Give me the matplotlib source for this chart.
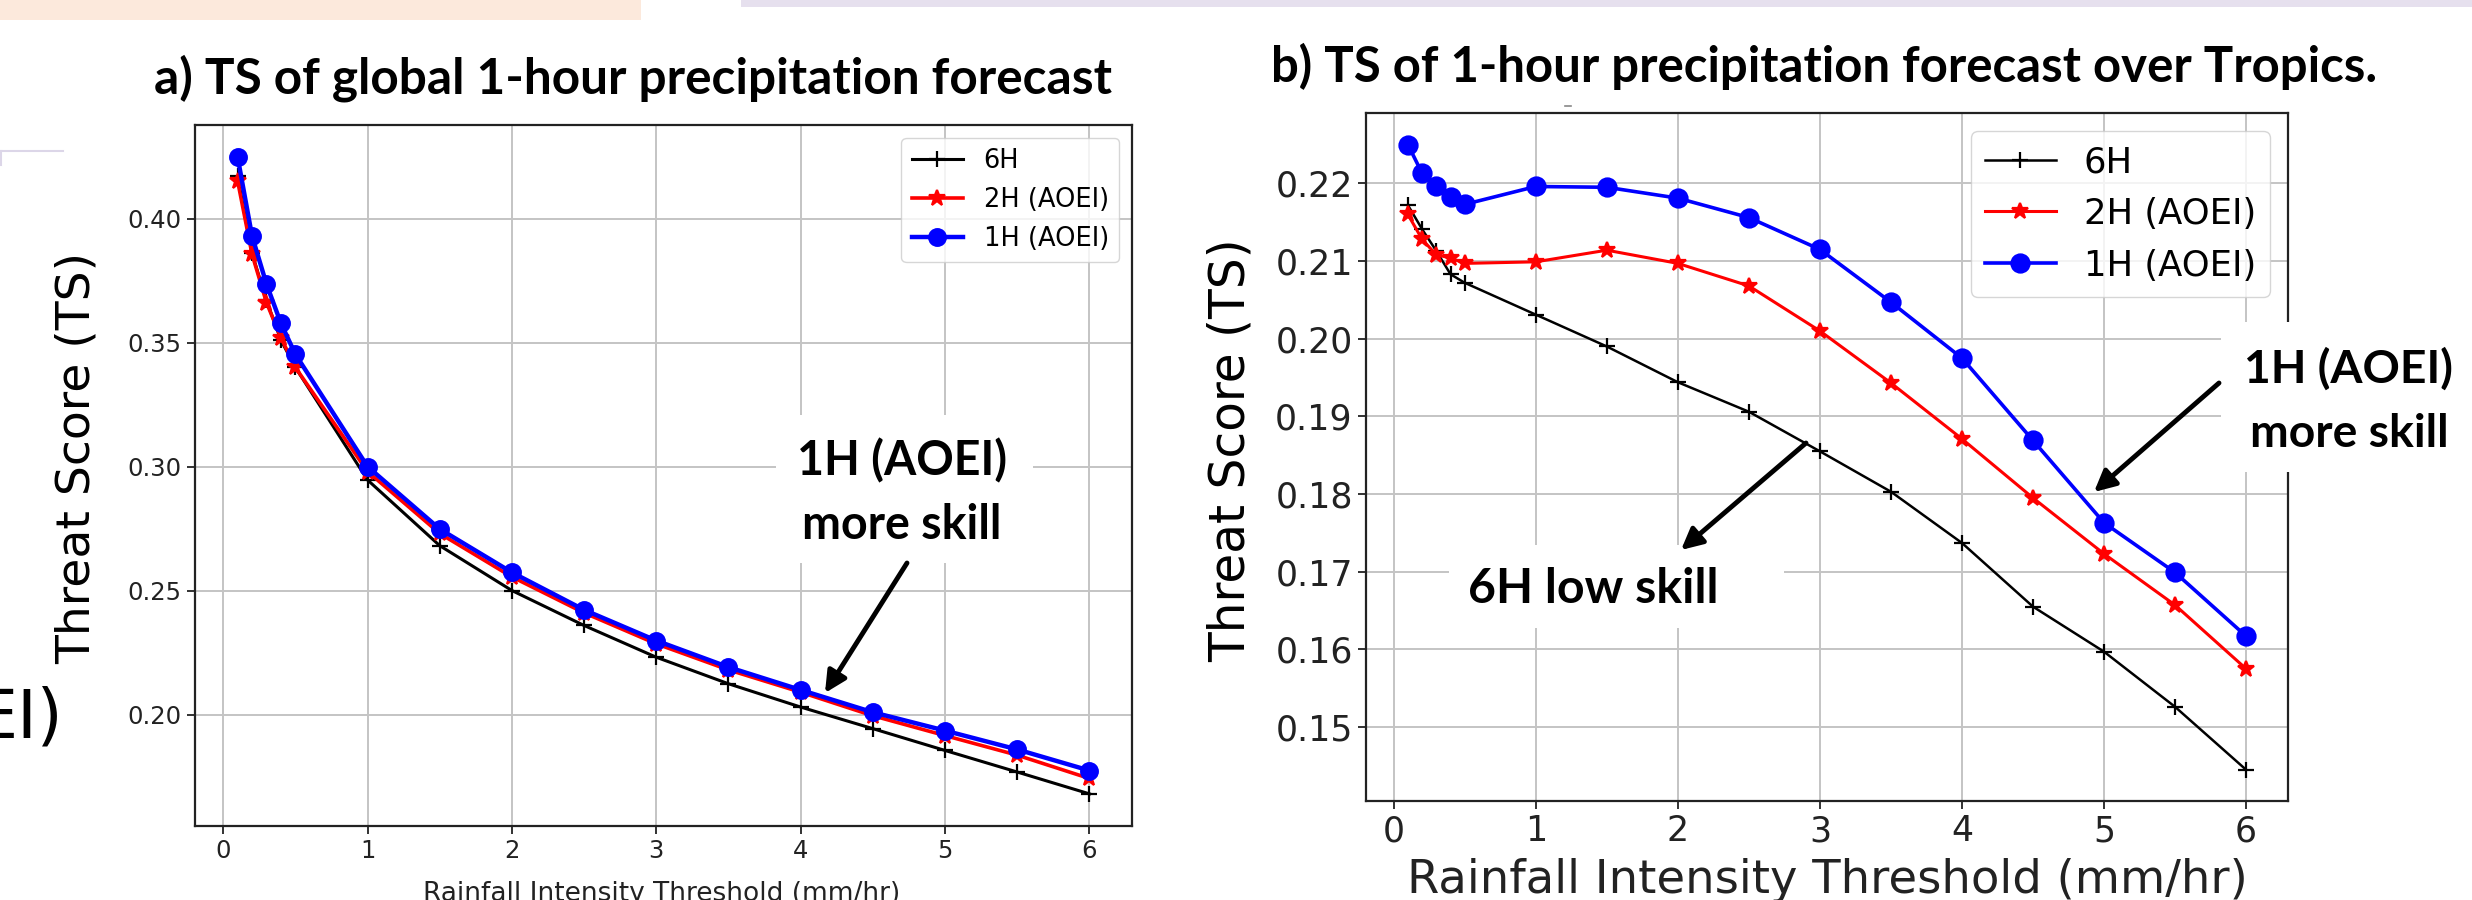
import matplotlib
matplotlib.use("Agg")
import matplotlib.pyplot as plt
from matplotlib.patches import Rectangle, FancyArrowPatch
from matplotlib.lines import Line2D

# ---------------- data ----------------
thresholds = [0.1, 0.2, 0.3, 0.4, 0.5, 1.0, 1.5, 2.0, 2.5, 3.0, 3.5, 4.0, 4.5, 5.0, 5.5, 6.0]

global_6h = [0.417, 0.386, 0.367, 0.351, 0.340, 0.2946, 0.2681, 0.2500, 0.2359, 0.2231,
             0.2124, 0.2030, 0.1943, 0.1855, 0.1768, 0.1680]
global_2h = [0.4152, 0.3856, 0.3661, 0.3520, 0.3400, 0.2980, 0.2730, 0.2555, 0.2410, 0.2285,
             0.2180, 0.2090, 0.1995, 0.1915, 0.1836, 0.1742]
global_1h = [0.4249, 0.3930, 0.3736, 0.3578, 0.3453, 0.3000, 0.2748, 0.2573, 0.2422, 0.2298,
             0.2191, 0.2099, 0.2009, 0.1935, 0.1859, 0.1774]

tropics_6h = [0.2172, 0.2141, 0.2113, 0.2083, 0.2072, 0.2031, 0.1990, 0.1944, 0.1906, 0.1855,
              0.1803, 0.1737, 0.1655, 0.1597, 0.1526, 0.1445]
tropics_2h = [0.2160, 0.2128, 0.2108, 0.2104, 0.2097, 0.2099, 0.2114, 0.2097, 0.2068, 0.2010,
              0.1943, 0.1871, 0.1795, 0.1723, 0.1657, 0.1575]
tropics_1h = [0.2250, 0.2213, 0.2197, 0.2182, 0.2173, 0.2196, 0.2195, 0.2181, 0.2156, 0.2115,
              0.2047, 0.1975, 0.1869, 0.1763, 0.1699, 0.1617]

series_labels = ["6H", "2H (AOEI)", "1H (AOEI)"]
series_colors = ["black", "red", "blue"]
series_markers = ["+", "*", "o"]

title_a = "a) TS of global 1-hour precipitation forecast"
title_b = "b) TS of 1-hour precipitation forecast over Tropics."
xlabel = "Rainfall Intensity Threshold (mm/hr)"
ylabel = "Threat Score (TS)"

# ---------------- figure ----------------
W, H = 2472, 900
fig = plt.figure(figsize=(W / 100, H / 100), dpi=100)
fig.patch.set_facecolor("white")


def fx(px):
    return px / W


def fy(py):
    return 1 - py / H


BOLD = ["Lato", "DejaVu Sans"]


def fit_text(x, y, s, target_w, **kw):
    t = fig.text(x, y, s, **kw)
    r = fig.canvas.get_renderer()
    w = t.get_window_extent(r).width
    t.set_fontsize(t.get_fontsize() * target_w / w)
    return t


# decorative slide elements
fig.add_artist(Rectangle((0, fy(19.5)), fx(641), 19.5 / H, transform=fig.transFigure,
                         facecolor="#fce9dc", edgecolor="none", zorder=-5))
fig.add_artist(Rectangle((fx(741), fy(7)), 1 - fx(741), 7 / H, transform=fig.transFigure,
                         facecolor="#e6e0ee", edgecolor="none", zorder=-5))
fig.add_artist(Line2D([0, fx(63)], [fy(151), fy(151)], transform=fig.transFigure,
                      color="#dcd6e8", lw=1.5))
fig.add_artist(Line2D([fx(1), fx(1)], [fy(151), fy(165)], transform=fig.transFigure,
                      color="#dcd6e8", lw=1.5))
fig.add_artist(Line2D([fx(1565), fx(1571)], [fy(106), fy(106)], transform=fig.transFigure,
                      color="#888888", lw=1.2))
fig.text(fx(63), fy(737), "EI)", ha="right", va="baseline", fontsize=48, color="black")

grid_kw = dict(color="#c4c4c4", lw=1.4)


def style_axes(ax, labelsize):
    ax.grid(True, **grid_kw)
    ax.set_axisbelow(True)
    for sp in ax.spines.values():
        sp.set_linewidth(1.6)
        sp.set_color("#222222")
    ax.tick_params(labelsize=labelsize, length=6, width=1.3, colors="#222222")


# ---------------- panel a ----------------
axA = fig.add_axes([fx(195), fy(825.7), fx(1132) - fx(195), (825.7 - 125) / H])
ys_a = [global_6h, global_2h, global_1h]
lw_a = [2.2, 2.6, 3.2]
ms_a = [11, 12, 12]
for y, lab, c, m, lw, ms in zip(ys_a, series_labels, series_colors, series_markers, lw_a, ms_a):
    axA.plot(thresholds, y, color=c, marker=m, label=lab, lw=lw, ms=ms, mew=1.6)
style_axes(axA, 17.5)
axA.set_xticks(range(0, 7))
axA.set_yticks([0.20, 0.25, 0.30, 0.35, 0.40])
axA.legend(loc="upper right", fontsize=18.5, handlelength=2.0)
fig.text(fx(662), fy(881), xlabel, ha="center", va="top", fontsize=19, color="#222222")
fig.text(fx(77), fy(458), ylabel, rotation=90, ha="center", va="center", fontsize=34)

# ---------------- panel b ----------------
axB = fig.add_axes([fx(1366), fy(801), fx(2288) - fx(1366), (801 - 113.3) / H])
ys_b = [tropics_6h, tropics_2h, tropics_1h]
lw_b = [1.8, 2.2, 2.6]
ms_b = [11, 12, 13]
for y, lab, c, m, lw, ms in zip(ys_b, series_labels, series_colors, series_markers, lw_b, ms_b):
    axB.plot(thresholds, y, color=c, marker=m, label=lab, lw=lw, ms=ms, mew=1.6)
style_axes(axB, 25)
axB.set_xticks(range(0, 7))
axB.set_yticks([0.15, 0.16, 0.17, 0.18, 0.19, 0.20, 0.21, 0.22])
axB.legend(loc="upper right", fontsize=25.5, handlelength=2.0)
fig.text(fx(1827), fy(858), xlabel, ha="center", va="top", fontsize=33.5, color="#222222")
fig.text(fx(1231), fy(450), ylabel, rotation=90, ha="center", va="center", fontsize=35)

# ---------------- titles ----------------
fit_text(fx(154), fy(93), title_a, 956, ha="left", va="baseline",
         fontsize=36, fontweight="bold", family=BOLD)
fit_text(fx(1271), fy(82), title_b, 1104, ha="left", va="baseline",
         fontsize=36, fontweight="bold", family=BOLD)

# ---------------- annotations ----------------
def white_box(x0, y0, x1, y1):
    fig.add_artist(Rectangle((fx(x0), fy(y1)), fx(x1) - fx(x0), (y1 - y0) / H,
                             transform=fig.transFigure, facecolor="white",
                             edgecolor="none", zorder=3))


def arrow(x0, y0, x1, y1):
    fig.add_artist(FancyArrowPatch((fx(x0), fy(y0)), (fx(x1), fy(y1)),
                                   transform=fig.transFigure, arrowstyle="-|>",
                                   mutation_scale=32, lw=3.5, color="black", zorder=6,
                                   shrinkA=0, shrinkB=0))


white_box(776, 415, 1033, 563)
t1 = fit_text(fx(902), fy(475), "1H (AOEI)", 210, ha="center", va="baseline",
              fontsize=30, fontweight="bold", family=BOLD, zorder=5)
fig.text(fx(902), fy(539), "more skill", ha="center", va="baseline",
         fontsize=t1.get_fontsize(), fontweight="bold", family=BOLD, zorder=5)
arrow(907, 563, 825, 693)

white_box(2221, 322, W, 472)
t2 = fit_text(fx(2349), fy(383), "1H (AOEI)", 209, ha="center", va="baseline",
              fontsize=30, fontweight="bold", family=BOLD, zorder=5)
fig.text(fx(2349), fy(447), "more skill", ha="center", va="baseline",
         fontsize=t2.get_fontsize(), fontweight="bold", family=BOLD, zorder=5)
arrow(2219, 383, 2094, 492)

white_box(1449, 545, 1784, 628)
fit_text(fx(1593), fy(603), "6H low skill", 250, ha="center", va="baseline",
         fontsize=30, fontweight="bold", family=BOLD, zorder=5)
arrow(1806, 443, 1681, 550)

fig.savefig("out.png", dpi=100)
